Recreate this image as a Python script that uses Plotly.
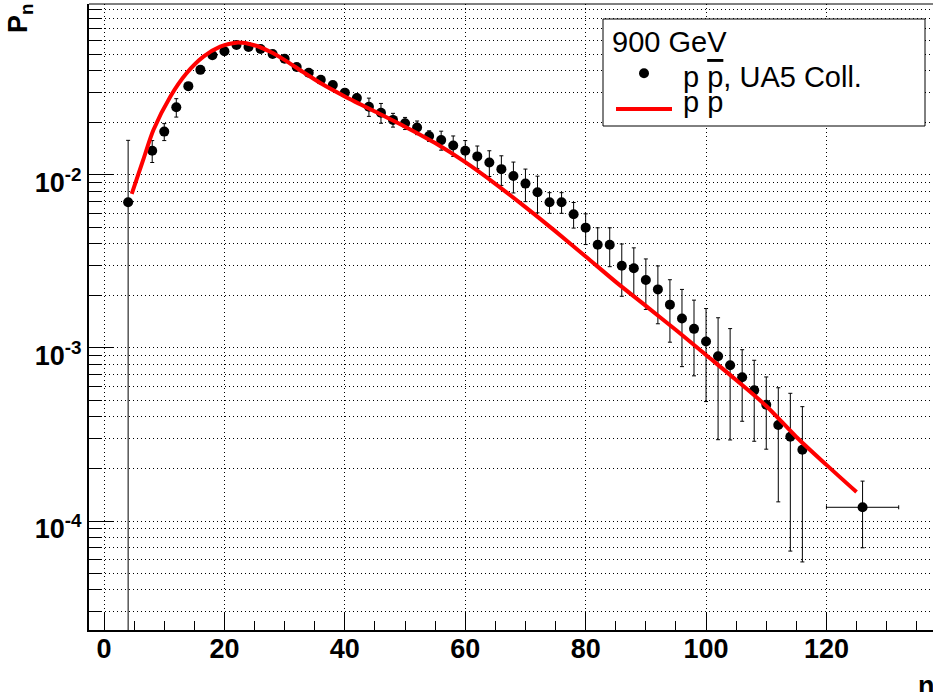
import plotly.graph_objects as go

# ---------------- data ----------------
n_data = [4, 8, 10, 12, 14, 16, 18, 20, 22, 24, 26, 28, 30, 32, 34, 36, 38, 40, 42, 44,
          46, 48, 50, 52, 54, 56, 58, 60, 62, 64, 66, 68, 70, 72, 74, 76, 78, 80, 82, 84,
          86, 88, 90, 92, 94, 96, 98, 100, 102, 104, 106, 108, 110, 112, 114, 116, 126]
p_data = [0.00695, 0.0138, 0.0178, 0.0246, 0.0326, 0.0405, 0.0492, 0.0519, 0.0564, 0.0549,
          0.0535, 0.0500, 0.0469, 0.0421, 0.0390, 0.0355, 0.0331, 0.0299, 0.0278, 0.0248,
          0.0229, 0.0208, 0.0199, 0.0188, 0.0168, 0.0159, 0.0148, 0.0138, 0.0128, 0.0118,
          0.0108, 0.00987, 0.00891, 0.00794, 0.00695, 0.00695, 0.00593, 0.00496, 0.00395, 0.00395,
          0.00299, 0.00289, 0.00247, 0.00218, 0.00178, 0.00148, 0.00129, 0.00109, 0.000895, 0.000794,
          0.000677, 0.000569, 0.00047, 0.000359, 0.000307, 0.000258, 0.000120]
p_err = [0.0089, 0.002, 0.002, 0.003, 0.0015, 0.001, 0.0012, 0.001, 0.001, 0.001,
         0.001, 0.001, 0.001, 0.001, 0.001, 0.001, 0.001, 0.001, 0.0015, 0.003,
         0.003, 0.0019, 0.0016, 0.0017, 0.0012, 0.002, 0.002, 0.002, 0.0019, 0.002,
         0.0021, 0.002, 0.0019, 0.0019, 0.00095, 0.00095, 0.001, 0.001, 0.001, 0.001,
         0.001, 0.0009, 0.0008, 0.0008, 0.0007, 0.0007, 0.0006, 0.0006, 0.0006, 0.0005,
         0.0003, 0.00028, 0.00021, 0.00023, 0.00024, 0.0002, 0.00005]
n_err = [0] * 56 + [6]

n_model = [4.6, 6.5, 8.2, 11, 13.7, 16.5, 19.3, 22, 24.8, 27.6, 30.3, 33, 36, 40, 46, 50,
           55, 60, 65, 70, 75, 80, 85, 90, 95, 100, 105, 110, 115, 120, 125]
p_model = [0.00777, 0.01221, 0.0182, 0.02835, 0.03871, 0.04829, 0.05516, 0.05817, 0.05641,
           0.05152, 0.0455, 0.03945, 0.03388, 0.02844, 0.02234, 0.01901, 0.01528, 0.01186,
           0.00889, 0.00652, 0.00472, 0.00338, 0.00241, 0.00175, 0.00127, 0.000911,
           0.000653, 0.000462, 0.000306, 0.000211, 0.000147]

y_tickvals = [1e-4, 1e-3, 1e-2]
y_ticktext = ["10<sup>-4</sup>", "10<sup>-3</sup>", "10<sup>-2</sup>"]

legend_header = "900 GeV"
label_data = 'p <span style="text-decoration:overline">p</span>, UA5 Coll.'
label_model = "p p"

# ---------------- geometry helpers (pixel -> paper) ----------------
W, H = 933, 692
L, T, B, R = 89, 4, 62, 0
PW, PH = W - L - R, H - T - B


def px(x):
    return (x - L) / PW


def py(y):
    return (H - B - y) / PH


FONT = "Liberation Sans, Arial, Helvetica, sans-serif"
DOT = "1px,3px"

fig = go.Figure()

fig.add_trace(go.Scatter(
    x=n_data, y=p_data, mode="markers",
    marker=dict(color="black", size=10, symbol="circle"),
    error_y=dict(type="data", array=p_err, color="black", thickness=1, width=2),
    error_x=dict(type="data", array=n_err, color="black", thickness=1, width=2),
    name="p p̄, UA5 Coll.", showlegend=False,
))

fig.add_trace(go.Scatter(
    x=n_model, y=p_model, mode="lines",
    line=dict(color="#ff0000", width=4, shape="spline", smoothing=0.8),
    name="p p", showlegend=False,
))

fig.update_layout(
    width=W, height=H,
    margin=dict(l=L, r=R, t=T, b=B),
    paper_bgcolor="white", plot_bgcolor="white",
    font=dict(family=FONT, color="black"),
    showlegend=False,
)

fig.update_xaxes(
    range=[-2.5, 137.7], automargin=False,
    tickmode="linear", tick0=0, dtick=20,
    ticks="inside", ticklen=17, tickwidth=1, tickcolor="black",
    tickfont=dict(family=FONT, size=27, weight="bold", color="black"),
    ticklabelstandoff=-6,
    showline=True, linewidth=2, linecolor="black",
    showgrid=True, gridcolor="black", gridwidth=1, griddash=DOT,
    zeroline=False,
    minor=dict(dtick=5, tick0=0, ticks="inside", ticklen=9, tickwidth=1,
               tickcolor="black", showgrid=False),
)

fig.update_yaxes(
    type="log", range=[-4.630, -1.012], automargin=False,
    tickmode="array", tickvals=y_tickvals, ticktext=y_ticktext,
    ticks="inside", ticklen=24, tickwidth=1, tickcolor="black",
    tickfont=dict(family=FONT, size=27, weight="bold", color="black"),
    ticklabelshift=8,
    showline=True, linewidth=2, linecolor="black",
    showgrid=True, gridcolor="black", gridwidth=1, griddash=DOT,
    zeroline=False,
    minor=dict(dtick="D1", ticks="inside", ticklen=12, tickwidth=1,
               tickcolor="black", showgrid=True, gridcolor="black",
               gridwidth=1, griddash=DOT),
)

shapes = [
    # top frame line
    dict(type="line", xref="paper", yref="paper", x0=0, x1=1, y0=1, y1=1,
         line=dict(color="black", width=1)),
    # legend box
    dict(type="rect", xref="paper", yref="paper",
         x0=px(603), x1=px(925), y0=py(126), y1=py(19),
         line=dict(color="black", width=1), fillcolor="white"),
    # legend marker
    dict(type="circle", xref="paper", yref="paper",
         x0=px(639), x1=px(649), y0=py(78.3), y1=py(68.3),
         line=dict(color="black", width=0), fillcolor="black"),
    # legend red line
    dict(type="line", xref="paper", yref="paper",
         x0=px(616), x1=px(672), y0=py(109), y1=py(109),
         line=dict(color="#ff0000", width=4)),
]
fig.update_layout(shapes=shapes)

annotations = [
    dict(text=legend_header, xref="paper", yref="paper", x=px(610), y=py(41.5),
         xanchor="left", yanchor="middle", showarrow=False,
         font=dict(family=FONT, size=29, color="black")),
    dict(text=label_data, xref="paper", yref="paper", x=px(681), y=py(76.5),
         xanchor="left", yanchor="middle", showarrow=False,
         font=dict(family=FONT, size=29, color="black")),
    dict(text=label_model, xref="paper", yref="paper", x=px(681), y=py(101.5),
         xanchor="left", yanchor="middle", showarrow=False,
         font=dict(family=FONT, size=29, color="black")),
    # axis titles
    dict(text="<b>P<sub>n</sub></b>", xref="paper", yref="paper", x=px(20), y=py(18),
         xanchor="center", yanchor="middle", textangle=-90, showarrow=False,
         font=dict(family=FONT, size=27, color="black")),
    dict(text="<b>n</b>", xref="paper", yref="paper", x=px(916), y=py(686),
         xanchor="left", yanchor="middle", showarrow=False,
         font=dict(family=FONT, size=27, color="black")),
]
fig.update_layout(annotations=annotations)

fig.write_html("out.html", config={"displayModeBar": False},
               post_script="document.body.style.margin='0';")
